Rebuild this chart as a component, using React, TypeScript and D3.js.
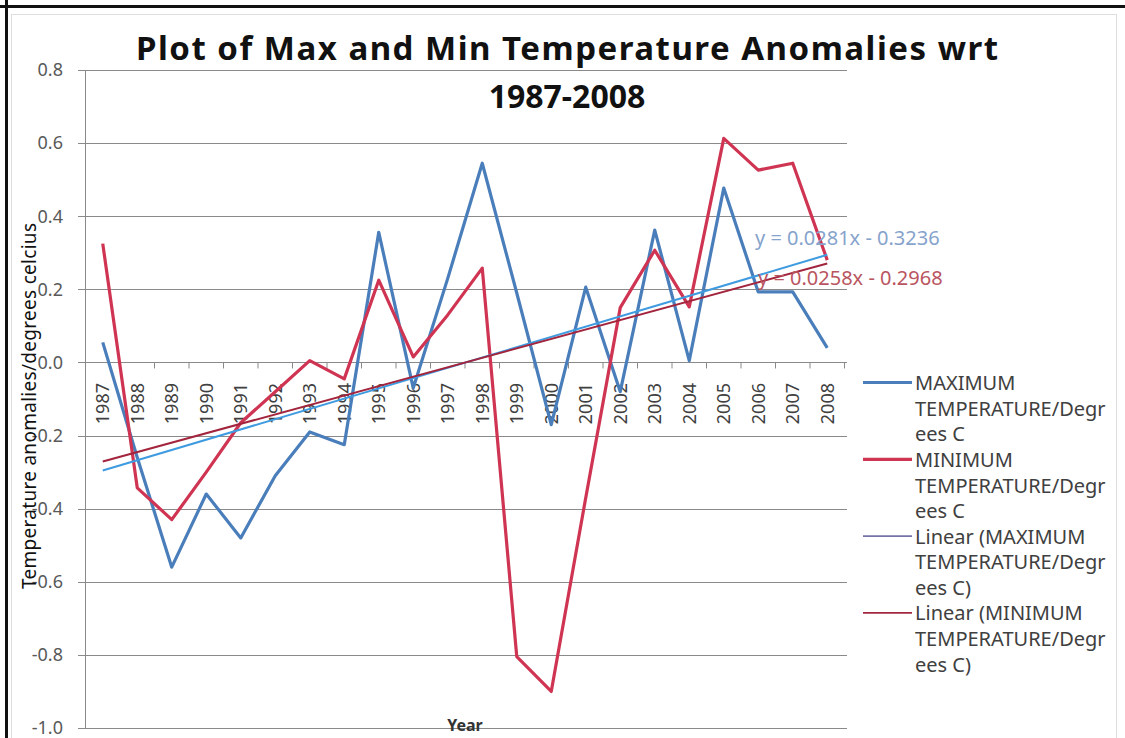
import React from "react";
import * as d3 from "d3";

const years = ["1987","1988","1989","1990","1991","1992","1993","1994","1995","1996","1997","1998","1999","2000","2001","2002","2003","2004","2005","2006","2007","2008"];
const maxTemp = [0.055,-0.26,-0.56,-0.36,-0.48,-0.31,-0.19,-0.225,0.356,-0.07,0.23,0.545,0.19,-0.17,0.206,-0.08,0.362,0.005,0.477,0.193,0.193,0.04];
const minTemp = [0.325,-0.343,-0.43,-0.30,-0.165,-0.08,0.005,-0.045,0.225,0.015,0.13,0.258,-0.805,-0.90,-0.37,0.15,0.307,0.152,0.613,0.526,0.545,0.28];
const yTicks = [-1.0,-0.8,-0.6,-0.4,-0.2,0.0,0.2,0.4,0.6,0.8];
const maxTrend = { slope: 0.0281, intercept: -0.3236 };
const minTrend = { slope: 0.0258, intercept: -0.2968 };
const titleLines = ["Plot of Max and Min Temperature Anomalies wrt", "1987-2008"];
const legendItems = [
  { lines: ["MAXIMUM", "TEMPERATURE/Degr", "ees C"], color: "#4a7ebb", width: 3.2 },
  { lines: ["MINIMUM", "TEMPERATURE/Degr", "ees C"], color: "#cf3452", width: 3.2 },
  { lines: ["Linear (MAXIMUM", "TEMPERATURE/Degr", "ees C)"], color: "#7574a6", width: 1.8 },
  { lines: ["Linear (MINIMUM", "TEMPERATURE/Degr", "ees C)"], color: "#a02840", width: 1.8 },
];

const W = 1125, H = 738;
const FONT = "'Noto Sans', 'Open Sans', sans-serif";

export default function App() {
  const x = d3.scaleBand<string>().domain(years).range([85.5, 844.5]).padding(0);
  const y = d3.scaleLinear().domain([-1, 0.8]).range([728, 70]);
  const cx = (yr: string) => (x(yr) as number) + x.bandwidth() / 2;
  const line = d3.line<[number, number]>().x(d => d[0]).y(d => d[1]);
  const fmt = (t: number) => d3.format(".1f")(t).replace("\u2212", "-");

  const maxPts: [number, number][] = years.map((yr, i) => [cx(yr), y(maxTemp[i])]);
  const minPts: [number, number][] = years.map((yr, i) => [cx(yr), y(minTemp[i])]);
  const trend = (t: { slope: number; intercept: number }): [number, number][] =>
    [0, years.length - 1].map(i => [cx(years[i]), y(t.slope * (i + 1) + t.intercept)]);

  const boundaries = d3.range(years.length + 1).map(k => 85.5 + k * x.bandwidth());

  return (
    <svg width={W} height={H} style={{ position: "absolute", left: 0, top: 0, background: "#fff" }} fontFamily={FONT}>
      <rect x={0} y={0} width={W} height={H} fill="#fff" />
      {/* inner chart border */}
      <rect x={11.5} y={14.5} width={1105} height={740} fill="none" stroke="#dedede" strokeWidth={1} />
      {/* outer black frame */}
      <line x1={0} y1={6.5} x2={W} y2={6.5} stroke="#111" strokeWidth={3} />
      <line x1={6.5} y1={0} x2={6.5} y2={H} stroke="#111" strokeWidth={3} />

      {/* gridlines */}
      {yTicks.map(t => (
        <line key={t} x1={78} x2={847} y1={Math.round(y(t)) + 0.5} y2={Math.round(y(t)) + 0.5} stroke="#8a8a8a" strokeWidth={1} />
      ))}
      <line x1={85.5} x2={85.5} y1={y(0.8)} y2={y(-1)} stroke="#8a8a8a" strokeWidth={1} />
      {boundaries.map((bx, k) => (
        <line key={k} x1={bx} x2={bx} y1={y(0)} y2={y(0) + 6} stroke="#8a8a8a" strokeWidth={1} />
      ))}

      {/* y tick labels */}
      {yTicks.map(t => (
        <text key={t} x={63} y={y(t)} dy="0.35em" textAnchor="end" fontSize={18} fill="#595959">
          {fmt(t)}
        </text>
      ))}

      {/* x tick labels */}
      {years.map(yr => (
        <text key={yr} transform={`translate(${cx(yr)},383) rotate(-90)`} dy="0.36em" textAnchor="end" fontSize={18} fill="#404040">
          {yr}
        </text>
      ))}

      {/* axis titles */}
      <text transform="translate(29,406) rotate(-90)" dy="0.35em" textAnchor="middle" fontSize={19} fill="#111" textLength={366} lengthAdjust="spacing">
        Temperature anomalies/degrees celcius
      </text>
      <text x={465} y={731} textAnchor="middle" fontSize={16} fontWeight="bold" fill="#333">Year</text>

      {/* series */}
      <path d={line(maxPts) as string} fill="none" stroke="#4a7ebb" strokeWidth={3.2} strokeLinejoin="round" />
      <path d={line(minPts) as string} fill="none" stroke="#cf3452" strokeWidth={3.2} strokeLinejoin="round" />
      <path d={line(trend(maxTrend)) as string} fill="none" stroke="#3f9be0" strokeWidth={2} />
      <path d={line(trend(minTrend)) as string} fill="none" stroke="#a3253d" strokeWidth={2} />

      {/* trend equations */}
      <text x={755} y={245} fontSize={20} fill="#86a3cc">y = 0.0281x - 0.3236</text>
      <text x={758} y={285} fontSize={20} fill="#b95560">y = 0.0258x - 0.2968</text>

      {/* title */}
      <text x={567} y={60} textAnchor="middle" fontSize={33} fontWeight="bold" fill="#111" textLength={862} lengthAdjust="spacing">{titleLines[0]}</text>
      <text x={567} y={108} textAnchor="middle" fontSize={32} fontWeight="bold" fill="#111">{titleLines[1]}</text>

      {/* legend */}
      {legendItems.map((it, i) => {
        const base = 390 + i * 76.8;
        return (
          <g key={i}>
            <line x1={863} x2={912} y1={base - 7.5} y2={base - 7.5} stroke={it.color} strokeWidth={it.width} />
            {it.lines.map((ln, j) => (
              <text key={j} x={915} y={base + j * 25.7} fontSize={20} fill="#404040">{ln}</text>
            ))}
          </g>
        );
      })}
    </svg>
  );
}
